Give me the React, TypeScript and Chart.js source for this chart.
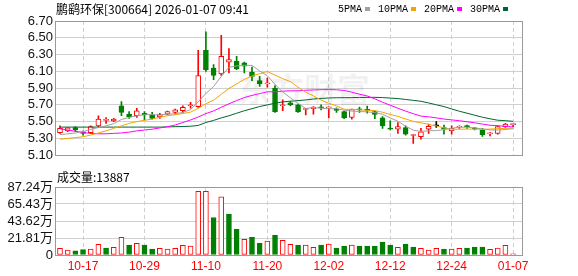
import React, { useEffect, useRef } from 'react';
import { Chart, registerables } from 'chart.js';

Chart.register(...registerables);

const dates = [
  '10-14', '10-15', '10-16', '10-17', '10-20', '10-21', '10-22', '10-23', '10-24', '10-27', '10-28', '10-29', '10-30', '10-31',
  '11-03', '11-04', '11-05', '11-06', '11-07', '11-10', '11-11', '11-12', '11-13', '11-14', '11-17', '11-18', '11-19', '11-20',
  '11-21', '11-24', '11-25', '11-26', '11-27', '11-28',
  '12-01', '12-02', '12-03', '12-04', '12-05', '12-08', '12-09', '12-10', '12-11', '12-12', '12-15', '12-16', '12-17', '12-18',
  '12-19', '12-22', '12-23', '12-24', '12-25', '12-26', '12-29', '12-30', '12-31',
  '01-05', '01-06', '01-07',
];

const opens = [
  5.37, 5.39, 5.43, 5.38, 5.37, 5.45, 5.515, 5.51, 5.69, 5.59,
  5.57, 5.60, 5.58, 5.555, 5.59, 5.61, 5.63, 5.69, 5.68, 6.35,
  6.14, 6.07, 6.21, 6.22, 6.20, 6.09, 5.99, 5.95, 5.90, 5.69,
  5.725, 5.70, 5.645, 5.655, 5.67, 5.665, 5.645, 5.62, 5.55, 5.65,
  5.645, 5.62, 5.545, 5.42, 5.41, 5.43, 5.335, 5.32, 5.41, 5.45,
  5.43, 5.39, 5.435, 5.445, 5.425, 5.40, 5.355, 5.36, 5.44, 5.465,
];
const highs = [
  5.45, 5.43, 5.44, 5.39, 5.45, 5.57, 5.55, 5.54, 5.74, 5.62,
  5.66, 5.62, 5.61, 5.60, 5.625, 5.65, 5.69, 5.73, 6.35, 6.57,
  6.18, 6.53, 6.37, 6.28, 6.21, 6.15, 6.04, 6.02, 5.93, 5.76,
  5.74, 5.71, 5.66, 5.68, 5.70, 5.675, 5.665, 5.625, 5.65, 5.675,
  5.685, 5.63, 5.56, 5.51, 5.49, 5.45, 5.345, 5.42, 5.47, 5.50,
  5.46, 5.45, 5.45, 5.46, 5.43, 5.42, 5.37, 5.45, 5.48, 5.475,
];
const lows = [
  5.36, 5.38, 5.38, 5.34, 5.36, 5.43, 5.48, 5.50, 5.57, 5.54,
  5.55, 5.52, 5.53, 5.54, 5.58, 5.59, 5.61, 5.66, 5.67, 6.10,
  6.00, 6.05, 6.08, 6.12, 6.08, 5.99, 5.92, 5.91, 5.61, 5.63,
  5.69, 5.61, 5.58, 5.59, 5.64, 5.545, 5.61, 5.535, 5.53, 5.61,
  5.60, 5.535, 5.42, 5.40, 5.36, 5.34, 5.24, 5.29, 5.36, 5.43,
  5.35, 5.35, 5.42, 5.42, 5.40, 5.325, 5.33, 5.35, 5.43, 5.44,
];
const closes = [
  5.42, 5.425, 5.40, 5.36, 5.44, 5.53, 5.52, 5.53, 5.61, 5.56,
  5.63, 5.58, 5.54, 5.585, 5.62, 5.64, 5.67, 5.70, 6.05, 6.12,
  6.05, 6.28, 6.24, 6.13, 6.16, 6.04, 5.95, 5.955, 5.62, 5.695,
  5.70, 5.615, 5.65, 5.675, 5.665, 5.67, 5.635, 5.545, 5.645, 5.64,
  5.635, 5.585, 5.45, 5.41, 5.44, 5.35, 5.34, 5.38, 5.445, 5.45,
  5.41, 5.42, 5.445, 5.44, 5.415, 5.345, 5.36, 5.44, 5.47, 5.47,
];

const ma5 = [
  5.345, 5.355, 5.365, 5.38, 5.408, 5.43, 5.45, 5.476, 5.526, 5.55,
  5.57, 5.582, 5.584, 5.579, 5.591, 5.593, 5.611, 5.643, 5.736, 5.836,
  5.918, 6.04, 6.148, 6.164, 6.172, 6.17, 6.104, 6.047, 5.945, 5.853,
  5.785, 5.718, 5.657, 5.668, 5.661, 5.653, 5.657, 5.636, 5.626, 5.621,
  5.617, 5.607, 5.588, 5.545, 5.505, 5.447, 5.398, 5.384, 5.391, 5.393,
  5.405, 5.421, 5.434, 5.433, 5.426, 5.413, 5.401, 5.40, 5.406, 5.417,
];
const ma10 = [
  5.29, 5.30, 5.31, 5.32, 5.34, 5.365, 5.39, 5.42, 5.45, 5.479,
  5.50, 5.516, 5.53, 5.553, 5.571, 5.582, 5.597, 5.614, 5.658, 5.714,
  5.756, 5.826, 5.896, 5.95, 6.004, 6.044, 6.072, 6.098, 6.055, 6.013,
  5.978, 5.911, 5.852, 5.807, 5.757, 5.719, 5.688, 5.647, 5.647, 5.641,
  5.635, 5.632, 5.612, 5.586, 5.563, 5.532, 5.503, 5.486, 5.468, 5.449,
  5.426, 5.41, 5.409, 5.412, 5.41, 5.409, 5.411, 5.417, 5.42, 5.423,
];
const ma20 = [
  5.415, 5.40, 5.385, 5.37, 5.36, 5.355, 5.355, 5.36, 5.365, 5.375,
  5.39, 5.40, 5.41, 5.425, 5.44, 5.46, 5.49, 5.52, 5.555, 5.596,
  5.628, 5.671, 5.713, 5.751, 5.787, 5.813, 5.834, 5.856, 5.856, 5.863,
  5.867, 5.868, 5.874, 5.878, 5.881, 5.882, 5.88, 5.872, 5.851, 5.827,
  5.806, 5.772, 5.732, 5.696, 5.66, 5.626, 5.595, 5.566, 5.558, 5.545,
  5.531, 5.521, 5.511, 5.499, 5.486, 5.471, 5.457, 5.452, 5.444, 5.436,
];
const ma30 = [
  5.435, 5.435, 5.435, 5.435, 5.435, 5.435, 5.435, 5.435, 5.435, 5.435,
  5.435, 5.435, 5.435, 5.435, 5.437, 5.44, 5.442, 5.445, 5.455, 5.49,
  5.515, 5.545, 5.57, 5.60, 5.63, 5.655, 5.68, 5.70, 5.72, 5.735,
  5.744, 5.751, 5.759, 5.77, 5.777, 5.782, 5.785, 5.786, 5.786, 5.789,
  5.789, 5.79, 5.787, 5.781, 5.775, 5.765, 5.754, 5.743, 5.723, 5.701,
  5.68, 5.651, 5.624, 5.601, 5.577, 5.553, 5.534, 5.517, 5.512, 5.504,
];

// volume in 万
const volumes = [
  8.5, 6.4, 5.5, 6.8, 7.7, 13.6, 8.9, 9.8, 22.6, 12.8,
  14.9, 12.8, 7.7, 8.5, 7.7, 8.5, 12.3, 11.5, 81.7, 81.7,
  48.1, 74.5, 52.4, 32.8, 20.0, 22.6, 14.9, 17.9, 25.1, 18.7,
  13.6, 12.8, 12.8, 9.8, 12.8, 14.0, 8.9, 11.5, 12.8, 11.5,
  11.5, 11.5, 16.6, 12.8, 9.8, 14.0, 10.2, 8.5, 6.4, 8.5,
  7.7, 7.7, 8.5, 8.9, 10.2, 10.2, 7.2, 8.9, 12.3, 1.39,
];

const priceTicks = [5.1, 5.3, 5.5, 5.7, 5.9, 6.1, 6.3, 6.5, 6.7];
const volumeTicks = [0, 21.81, 43.62, 65.43, 87.24];
const xTickLabels = ['10-17', '10-29', '11-10', '11-20', '12-02', '12-12', '12-24', '01-07'];
const stockTitle = '鹏鹞环保[300664] 2026-01-07 09:41';
const volumeTitle = '成交量:13887';
const maNames = ['5PMA', '10PMA', '20PMA', '30PMA'];
const watermark = '东方财富';

const UP = '#ff0000';
const DOWN = '#008000';
const FLAT = '#000000';
const MA_COLORS = ['#a0a0a0', '#f5a400', '#ff00ff', '#00662e'];
const GRID = '#d0d0d0';
const FRAME = '#999999';
const TICK_FONT = '"Liberation Sans", "Noto Sans CJK SC", sans-serif';

const candleColor = (i: number) =>
  closes[i] > opens[i] ? UP : closes[i] < opens[i] ? DOWN : FLAT;
const volUp = (i: number) => i === 0 || closes[i] >= closes[i - 1];

const X_MIN = -0.52;
const X_MAX = 60.16;

const makeX = (showLabels: boolean) => ({
  type: 'linear',
  min: X_MIN,
  max: X_MAX,
  offset: false,
  afterBuildTicks: (s: any) => {
    s.ticks = xTickLabels.map((l) => ({ value: dates.indexOf(l) }));
  },
  afterFit: (s: any) => {
    s.height = showLabels ? 21 : 1;
  },
  grid: { color: GRID, lineWidth: 1, drawTicks: false, offset: false },
  border: { display: false, dash: [4, 3] },
  ticks: {
    display: showLabels,
    autoSkip: false,
    maxRotation: 0,
    color: UP,
    padding: 4,
    font: { family: TICK_FONT, size: 12 },
    callback: (v: any) => dates[Math.round(Number(v))] ?? '',
  },
});

const framePlugin = {
  id: 'frame',
  afterDraw(chart: any) {
    const { ctx, chartArea: a } = chart;
    ctx.save();
    ctx.strokeStyle = FRAME;
    ctx.lineWidth = 1;
    ctx.strokeRect(Math.round(a.left) - 0.5, Math.round(a.top) + 0.5, Math.round(a.right - a.left) + 1, Math.round(a.bottom - a.top));
    ctx.restore();
  },
};

export default function App() {
  const priceRef = useRef<HTMLCanvasElement | null>(null);
  const volRef = useRef<HTMLCanvasElement | null>(null);

  useEffect(() => {
    const headerPlugin = {
      id: 'header',
      beforeDatasetsDraw(chart: any) {
        const { ctx } = chart;
        ctx.save();
        ctx.fillStyle = 'rgba(0,0,0,0.055)';
        ctx.font = 'bold 33px "Noto Sans CJK SC"';
        ctx.textBaseline = 'middle';
        ctx.textAlign = 'left';
        ctx.fillText(watermark, 238, 89);
        ctx.restore();
      },
      afterDraw(chart: any) {
        const { ctx } = chart;
        ctx.save();
        ctx.fillStyle = '#000';
        ctx.textBaseline = 'middle';
        ctx.textAlign = 'left';
        ctx.font = '12px "Noto Sans CJK SC"';
        ctx.fillText(stockTitle, 56, 9);
        ctx.font = '10px "Liberation Mono"';
        let x = 338;
        maNames.forEach((name, k) => {
          ctx.fillStyle = '#000';
          ctx.fillText(name, x, 9);
          x += ctx.measureText(name).width + 3;
          ctx.fillStyle = MA_COLORS[k];
          ctx.fillRect(x, 7, 5, 4);
          x += 5 + 8;
        });
        ctx.restore();
      },
    };

    const volTitlePlugin = {
      id: 'volTitle',
      afterDraw(chart: any) {
        const { ctx } = chart;
        ctx.save();
        ctx.fillStyle = '#000';
        ctx.textBaseline = 'middle';
        ctx.textAlign = 'left';
        ctx.font = '12px "Noto Sans CJK SC"';
        ctx.fillText(volumeTitle, 57, 11);
        ctx.restore();
      },
    };

    const lineDs = (data: number[], color: string) => ({
      type: 'line',
      data: data.map((v, i) => ({ x: i, y: v })),
      borderColor: color,
      borderWidth: 1,
      pointRadius: 0,
      tension: 0,
      fill: false,
      order: -1,
    });

    const price = new Chart(priceRef.current as HTMLCanvasElement, {
      type: 'bar',
      data: {
        datasets: [
          {
            type: 'bar',
            data: dates.map((_, i) => ({ x: i, y: [opens[i], closes[i]] })),
            grouped: false,
            barThickness: 5,
            minBarLength: 1,
            borderSkipped: false,
            borderWidth: 1,
            borderColor: (c: any) => candleColor(c.dataIndex),
            backgroundColor: (c: any) => {
              const col = candleColor(c.dataIndex);
              return col === UP ? '#ffffff' : col;
            },
            order: 1,
          },
          {
            type: 'bar',
            data: dates.map((_, i) => ({ x: i, y: [lows[i], highs[i]] })),
            grouped: false,
            barThickness: 1,
            borderWidth: 0,
            backgroundColor: (c: any) => candleColor(c.dataIndex),
            order: 2,
          },
          lineDs(ma5, MA_COLORS[0]),
          lineDs(ma10, MA_COLORS[1]),
          lineDs(ma20, MA_COLORS[2]),
          lineDs(ma30, MA_COLORS[3]),
        ] as any,
      },
      options: {
        responsive: false,
        animation: false,
        events: [],
        layout: { padding: { left: 0, right: 56, top: 21, bottom: 0 } },
        plugins: { legend: { display: false }, tooltip: { enabled: false }, title: { display: false } },
        scales: {
          x: makeX(false) as any,
          y: {
            type: 'linear',
            min: 5.1,
            max: 6.7,
            afterBuildTicks: (s: any) => {
              s.ticks = priceTicks.map((v) => ({ value: v }));
            },
            afterFit: (s: any) => {
              s.width = 56;
            },
            grid: { color: GRID, drawTicks: false },
            border: { display: false },
            ticks: {
              autoSkip: false,
              padding: 3,
              color: '#111',
              font: { family: TICK_FONT, size: 13 },
              callback: (v: any) => Number(v).toFixed(2),
            },
          },
        },
      },
      plugins: [headerPlugin, framePlugin],
    } as any);

    const vol = new Chart(volRef.current as HTMLCanvasElement, {
      type: 'bar',
      data: {
        datasets: [
          {
            type: 'bar',
            data: volumes.map((v, i) => ({ x: i, y: v })),
            grouped: false,
            barThickness: 5,
            borderSkipped: false,
            borderWidth: 1,
            borderColor: (c: any) => (volUp(c.dataIndex) ? UP : DOWN),
            backgroundColor: (c: any) => (volUp(c.dataIndex) ? '#ffffff' : DOWN),
          },
        ] as any,
      },
      options: {
        responsive: false,
        animation: false,
        events: [],
        layout: { padding: { left: 0, right: 56, top: 21, bottom: 0 } },
        plugins: { legend: { display: false }, tooltip: { enabled: false }, title: { display: false } },
        scales: {
          x: makeX(true) as any,
          y: {
            type: 'linear',
            min: 0,
            max: 87.24,
            afterBuildTicks: (s: any) => {
              s.ticks = volumeTicks.map((v) => ({ value: v }));
            },
            afterFit: (s: any) => {
              s.width = 56;
            },
            grid: { color: GRID, drawTicks: false },
            border: { display: false },
            ticks: {
              autoSkip: false,
              padding: 3,
              color: '#111',
              font: { family: TICK_FONT, size: 13 },
              callback: (v: any) => (Number(v) === 0 ? '0' : Number(v).toFixed(2) + '万'),
            },
          },
        },
      },
      plugins: [volTitlePlugin, framePlugin],
    } as any);

    return () => {
      price.destroy();
      vol.destroy();
    };
  }, []);

  return (
    <div style={{ position: 'fixed', left: 0, top: 0, width: 578, height: 276, background: '#ffffff' }}>
      <canvas ref={priceRef} width={578} height={166} style={{ position: 'absolute', left: 0, top: 0, width: 578, height: 166 }} />
      <canvas ref={volRef} width={578} height={110} style={{ position: 'absolute', left: 0, top: 166, width: 578, height: 110 }} />
    </div>
  );
}
